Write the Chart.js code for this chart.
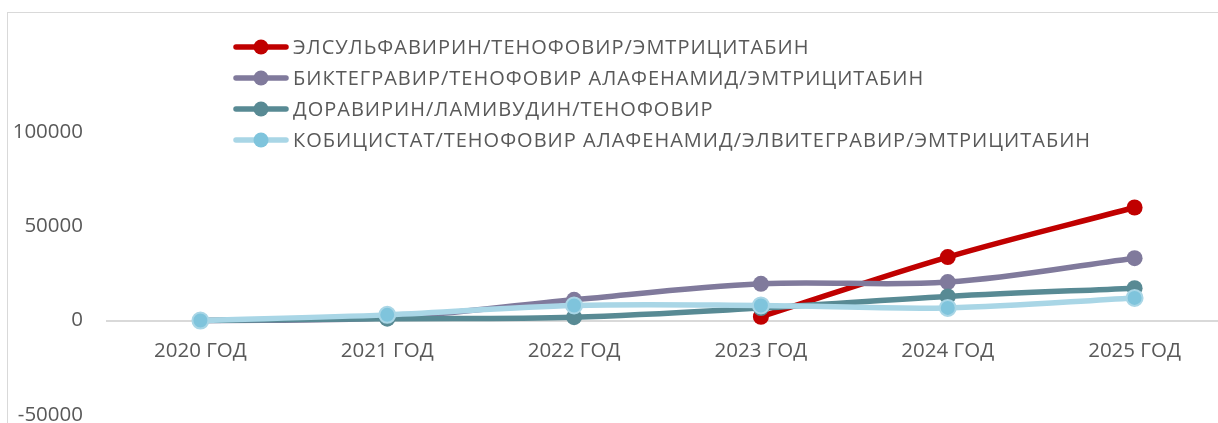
<!DOCTYPE html>
<html>
<head>
<meta charset="utf-8">
<script src="https://cdn.jsdelivr.net/npm/chart.js@4.4.1/dist/chart.umd.min.js"></script>
<style>
  html, body { margin: 0; padding: 0; background: #fff; overflow: hidden; }
  #wrap { position: relative; width: 1218px; height: 423px; overflow: hidden; }
  #frame { position: absolute; left: 7px; top: 12px; width: 1260px; height: 460px; border: 1px solid #d9d9d9; box-sizing: border-box; }
  #box { position: absolute; left: 0; top: 0; width: 1240px; height: 443px; }
  #legend { position: absolute; left: 233px; top: 31px; font-family: "Open Sans", sans-serif; font-size: 20px; letter-spacing: 1px; color: #595959; }
  #legend .row { height: 31px; display: flex; align-items: center; white-space: nowrap; }
  #legend canvas { margin-right: 4px; }
</style>
</head>
<body>
<div id="wrap">
  <div id="frame"></div>
  <div id="box"><canvas id="chart" width="1240" height="443"></canvas></div>
  <div id="legend"></div>
</div>
<script>
const years = ['2020 ГОД', '2021 ГОД', '2022 ГОД', '2023 ГОД', '2024 ГОД', '2025 ГОД'];
const names = [
  'ЭЛСУЛЬФАВИРИН/ТЕНОФОВИР/ЭМТРИЦИТАБИН',
  'БИКТЕГРАВИР/ТЕНОФОВИР АЛАФЕНАМИД/ЭМТРИЦИТАБИН',
  'ДОРАВИРИН/ЛАМИВУДИН/ТЕНОФОВИР',
  'КОБИЦИСТАТ/ТЕНОФОВИР АЛАФЕНАМИД/ЭЛВИТЕГРАВИР/ЭМТРИЦИТАБИН'
];
const elsulfavirine = [null, null, null, 2000, 33700, 60000];
const bictegravir = [0, 1500, 11000, 19500, 20400, 33100];
const doravirine = [0, 1000, 1800, 6600, 12800, 17200];
const cobicistat = [0, 3000, 8000, 8000, 6700, 12000];

const lineColors = ['#c00000', '#807a9c', '#588a94', '#a9d6e6'];
const dotColors = ['#c00000', '#807a9c', '#588a94', '#7fc4dc'];
const series = [elsulfavirine, bictegravir, doravirine, cobicistat];

const datasets = series.map((d, i) => ({
  label: names[i],
  data: d,
  order: 3 - i, // later series drawn on top, like the original
  borderColor: lineColors[i],
  backgroundColor: dotColors[i],
  pointBorderColor: i === 3 ? '#a9d6e6' : dotColors[i],
  pointBorderWidth: i === 3 ? 2 : 0,
  borderWidth: 5.5,
  pointRadius: 8,
  pointHoverRadius: 8,
  tension: 0.35,
  spanGaps: false
}));

// html legend with line + dot symbols
const legend = document.getElementById('legend');
names.forEach((n, i) => {
  const row = document.createElement('div');
  row.className = 'row';
  const c = document.createElement('canvas');
  c.width = 56; c.height = 20;
  const g = c.getContext('2d');
  g.strokeStyle = lineColors[i]; g.lineWidth = 5.5; g.lineCap = 'round';
  g.beginPath(); g.moveTo(3, 10); g.lineTo(53, 10); g.stroke();
  g.fillStyle = dotColors[i];
  g.beginPath(); g.arc(28, 10, 7.5, 0, Math.PI * 2); g.fill();
  row.appendChild(c);
  const s = document.createElement('span');
  s.textContent = n;
  row.appendChild(s);
  legend.appendChild(row);
});

const tickFont = { family: 'Open Sans', size: 20.5 };

new Chart(document.getElementById('chart'), {
  type: 'line',
  data: { labels: years, datasets: datasets },
  options: {
    responsive: false,
    animation: false,
    layout: { padding: { left: 0, right: 12, top: 38, bottom: 9 } },
    plugins: { legend: { display: false }, tooltip: { enabled: false } },
    scales: {
      x: {
        position: { y: 0 },
        offset: true,
        grid: { display: false, offset: true },
        border: { color: '#d9d9d9', width: 2 },
        ticks: { color: '#595959', font: tickFont, padding: 10, maxRotation: 0 }
      },
      y: {
        min: -50000,
        max: 150000,
        grid: { display: false },
        border: { display: false },
        afterFit: s => { s.width = 107; },
        ticks: {
          stepSize: 50000,
          padding: 16,
          color: '#595959',
          font: tickFont,
          callback: v => v === 150000 ? '' : v
        }
      }
    }
  }
});
</script>
</body>
</html>
